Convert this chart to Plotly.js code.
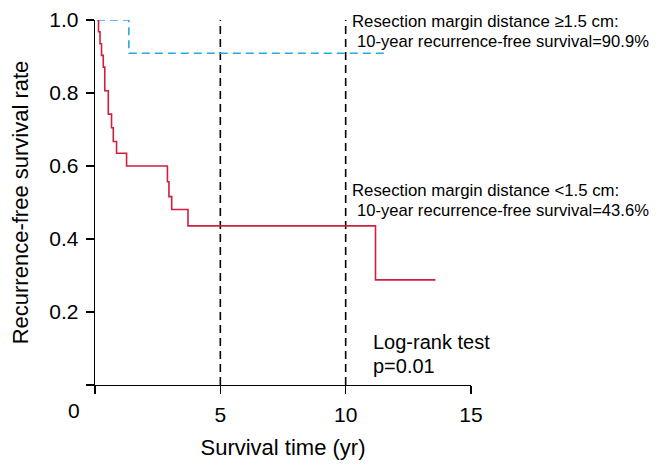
<!DOCTYPE html>
<html>
<head>
<meta charset="utf-8">
<script src="https://cdn.plot.ly/plotly-3.0.1.min.js"></script>
<style>html,body{margin:0;padding:0;background:#fff;}</style>
</head>
<body>
<div id="chart" style="width:661px;height:469px;"></div>
<script>
// Kaplan-Meier step data
var redTime = [0.10, 0.14, 0.20, 0.26, 0.33, 0.39, 0.53, 0.66, 0.73, 0.86, 1.26, 2.89, 2.95, 3.06, 3.71, 11.19, 13.58];
var redSurv = [1.000, 0.968, 0.935, 0.903, 0.871, 0.806, 0.742, 0.705, 0.667, 0.635, 0.600, 0.557, 0.516, 0.481, 0.436, 0.288, 0.288];
var blueTime = [0.08, 1.35, 11.58];
var blueSurv = [1.000, 0.909, 0.909];
var refYears = [5, 10];
var xTickVals = [0, 5, 10, 15];
var xTickText = ['', '5', '10', '15'];
var yTickVals = [0, 0.2, 0.4, 0.6, 0.8, 1.0];
var yTickText = ['', '0.2', '0.4', '0.6', '0.8', '1.0'];

var FONT = 'Liberation Sans, Arial, Helvetica, sans-serif';

var traces = [];
refYears.forEach(function (yr) {
  traces.push({x: [yr, yr], y: [0, 1], mode: 'lines', hoverinfo: 'skip',
    line: {color: '#000', width: 1.6, dash: '8px,5px'}, showlegend: false});
});
traces.push({x: blueTime, y: blueSurv, mode: 'lines', line: {shape: 'hv', color: '#27a9df', width: 1.6, dash: '8px,5px'}, showlegend: false});
traces.push({x: redTime, y: redSurv, mode: 'lines', line: {shape: 'hv', color: '#cf1f3e', width: 1.6}, showlegend: false});

var layout = {
  width: 661, height: 469,
  margin: {l: 95, r: 190, t: 20, b: 84},
  paper_bgcolor: '#fff', plot_bgcolor: '#fff',
  font: {family: FONT, color: '#000', size: 21},
  xaxis: {
    range: [0, 15], showgrid: false, zeroline: false, showline: true, linecolor: '#000', linewidth: 1.3,
    ticks: 'outside', ticklen: 8, tickwidth: 1.3, tickcolor: '#000', ticklabelstandoff: 2,
    tickvals: xTickVals, ticktext: xTickText, tickfont: {size: 21, family: FONT},
    title: {text: 'Survival time (yr)', font: {size: 22, family: FONT}, standoff: 15}
  },
  yaxis: {
    range: [0, 1], showgrid: false, zeroline: false, showline: true, linecolor: '#000', linewidth: 1.3,
    ticks: 'outside', ticklen: 8, tickwidth: 1.3, tickcolor: '#000', ticklabelstandoff: 3,
    tickvals: yTickVals, ticktext: yTickText, tickfont: {size: 21, family: FONT},
    title: {text: 'Recurrence-free survival rate', font: {size: 22, family: FONT}, standoff: 14}
  },
  annotations: [
    {xref: 'paper', yref: 'paper', x: -0.056, y: -0.07, xanchor: 'center', yanchor: 'middle', text: '0', showarrow: false, font: {size: 21, family: FONT}},
    {xref: 'x', yref: 'y', x: 10.18, y: 0.995, xanchor: 'left', yanchor: 'middle', text: 'Resection margin distance ≥1.5 cm:', showarrow: false, font: {size: 16.8, family: FONT}},
    {xref: 'x', yref: 'y', x: 10.38, y: 0.94, xanchor: 'left', yanchor: 'middle', text: '10-year recurrence-free survival=90.9%', showarrow: false, font: {size: 16.6, family: FONT}},
    {xref: 'x', yref: 'y', x: 10.18, y: 0.534, xanchor: 'left', yanchor: 'middle', text: 'Resection margin distance <1.5 cm:', showarrow: false, font: {size: 16.8, family: FONT}},
    {xref: 'x', yref: 'y', x: 10.38, y: 0.479, xanchor: 'left', yanchor: 'middle', text: '10-year recurrence-free survival=43.6%', showarrow: false, font: {size: 16.6, family: FONT}},
    {xref: 'x', yref: 'y', x: 11.02, y: 0.118, xanchor: 'left', yanchor: 'middle', text: 'Log-rank test', showarrow: false, font: {size: 20, family: FONT}},
    {xref: 'x', yref: 'y', x: 11.02, y: 0.052, xanchor: 'left', yanchor: 'middle', text: 'p=0.01', showarrow: false, font: {size: 20, family: FONT}}
  ]
};

Plotly.newPlot('chart', traces, layout, {displayModeBar: false, staticPlot: true});
</script>
</body>
</html>
